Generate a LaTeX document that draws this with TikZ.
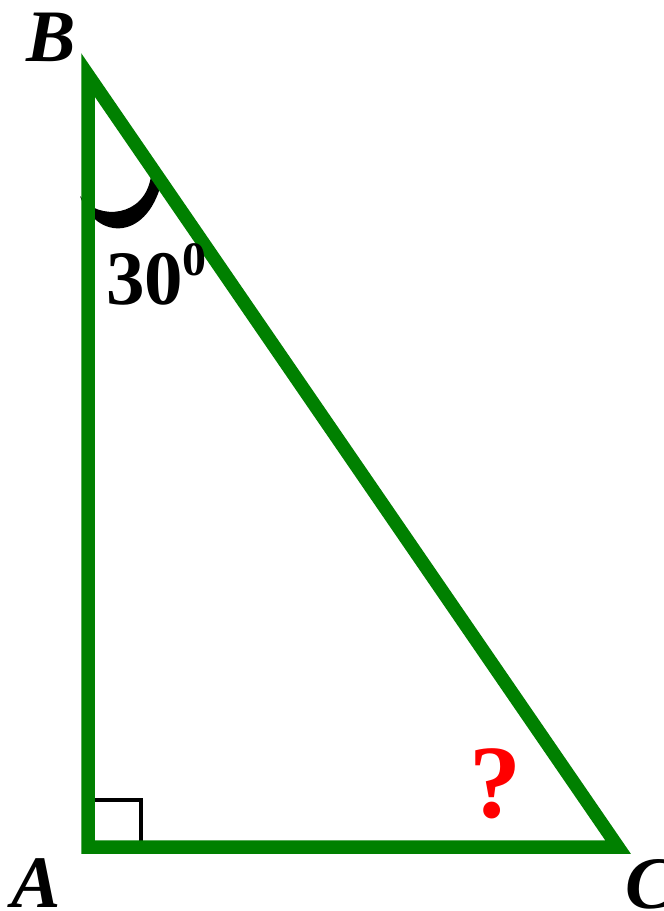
\documentclass[tikz,border=0pt]{standalone}
\usepackage{fontspec}
\setmainfont{Liberation Serif}
\definecolor{trigreen}{RGB}{0,128,0}
\definecolor{qred}{RGB}{255,0,0}
\tikzset{
  side/.style={draw=trigreen, line width=13.5pt, line join=miter},
  vlabel/.style={inner sep=0pt, font=\fontsize{74}{74}\selectfont\bfseries\itshape},
  numlabel/.style={inner sep=0pt, font=\fontsize{77}{77}\selectfont\bfseries},
  suplabel/.style={inner sep=0pt, font=\fontsize{48}{48}\selectfont\bfseries},
  qlabel/.style={inner sep=0pt, text=qred, font=\fontsize{104}{104}\selectfont\bfseries},
  rightmark/.style={draw=black, line width=4pt},
  anglemark/.style={fill=black, draw=none}
}
\begin{document}
\begin{tikzpicture}[x=1pt, y=-1pt]
\useasboundingbox (0,0) rectangle (664,911);
\coordinate (A) at (88,847);
\coordinate (B) at (88,75);
\coordinate (C) at (618,847);
\coordinate (R1) at (88,799.5);
\coordinate (R2) at (140.7,799.5);
\coordinate (R3) at (140.7,847);
% right-angle mark
\draw[rightmark] (R1) -- (R2) -- (R3);
% angle mark at B
\fill[anglemark] (80,196) .. controls (96,242) and (150,242) .. (163,176)
  -- (151,176) .. controls (145,218) and (98,220) .. (82,198) -- cycle;
% triangle
\draw[side] (A) -- (B) -- (C) -- cycle;
% labels
\node[vlabel] (lB) at (51.5,37.5) {B};
\node[vlabel] (lA) at (36,883) {A};
\node[vlabel] (lC) at (650,884) {C};
\node[numlabel] (ang) at (144.5,279) {30};
\node[suplabel] (deg) at (194,260) {0};
\node[qlabel] (q) at (495.5,784) {?};
\end{tikzpicture}
\end{document}
